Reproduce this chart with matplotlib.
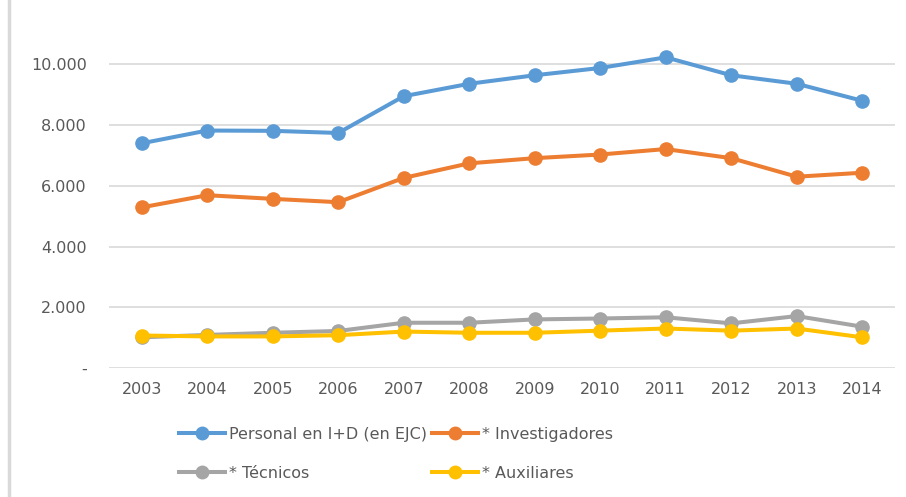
import matplotlib
matplotlib.use("Agg")
import matplotlib.pyplot as plt
from matplotlib.lines import Line2D

years = ["2003", "2004", "2005", "2006", "2007", "2008", "2009", "2010", "2011", "2012", "2013", "2014"]
personal = [7400, 7820, 7810, 7740, 8950, 9360, 9640, 9880, 10230, 9640, 9360, 8800]
investigadores = [5290, 5690, 5570, 5460, 6260, 6740, 6910, 7030, 7210, 6910, 6300, 6430]
tecnicos = [1010, 1090, 1160, 1220, 1490, 1490, 1600, 1630, 1670, 1470, 1710, 1360]
auxiliares = [1070, 1040, 1040, 1080, 1200, 1160, 1160, 1230, 1300, 1230, 1300, 1010]
series_labels = ["Personal en I+D (en EJC)", "* Investigadores", "* Técnicos", "* Auxiliares"]
ytick_vals = [0, 2000, 4000, 6000, 8000, 10000]
ytick_labels = ["-", "2.000", "4.000", "6.000", "8.000", "10.000"]

colors = ["#5B9BD5", "#ED7D31", "#A5A5A5", "#FFC000"]
text_color = "#595959"

W, H = 906, 497
fig = plt.figure(figsize=(W / 100, H / 100), dpi=100)
left, right = 109 / W, 895 / W
bottom = (H - 368) / H
top = (H - 3.6) / H
ax = fig.add_axes([left, bottom, right - left, top - bottom])

x = list(range(len(years)))
for vals, c, lab in zip([personal, investigadores, tecnicos, auxiliares], colors, series_labels):
    ax.plot(x, vals, color=c, lw=2.9, marker="o", markersize=9.5, label=lab,
            solid_capstyle="round", solid_joinstyle="round")

ax.set_xlim(-0.5, len(years) - 0.5)
ax.set_ylim(0, 12000)
ax.set_xticks(x)
ax.set_xticklabels(years)
ax.set_yticks(ytick_vals)
ax.set_yticklabels(ytick_labels)
ax.grid(axis="y", color="#D9D9D9", lw=1.2)
ax.set_axisbelow(True)
for s in ax.spines.values():
    s.set_visible(False)
ax.tick_params(axis="both", length=0, labelsize=11.5, colors=text_color)
ax.tick_params(axis="x", pad=10)
ax.tick_params(axis="y", pad=16)

# left border line of the chart area
fig.add_artist(Line2D([8.5 / W, 8.5 / W], [0, 1], color="#D9D9D9", lw=2.5, transform=fig.transFigure))

handles = [Line2D([0], [0], color=c, lw=2.9, marker="o", markersize=9) for c in colors]
order = [0, 2, 1, 3]  # row-wise order as in the reference
fig.legend([handles[i] for i in order], [series_labels[i] for i in order],
           loc="upper left", bbox_to_anchor=(179 / W, 1 - 427 / H),
           ncol=2, frameon=False, fontsize=11.5, labelcolor=text_color,
           handlelength=2.9, handletextpad=0.25, columnspacing=0.3, labelspacing=1.5,
           borderaxespad=0, borderpad=0)

fig.savefig("out.png", dpi=100)
